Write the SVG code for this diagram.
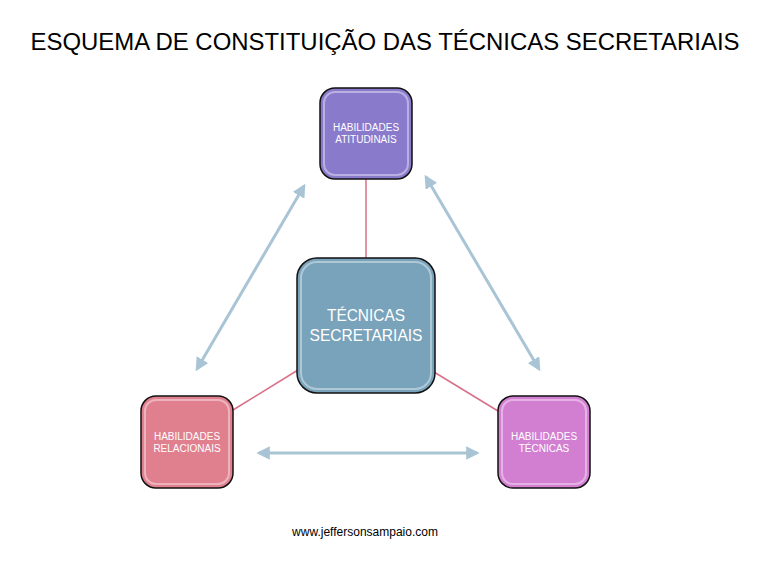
<svg xmlns="http://www.w3.org/2000/svg" width="771" height="565" viewBox="0 0 771 565">
<style>
.box{stroke:#111;stroke-width:1.5}
.gloss{fill:none;stroke:#fff;stroke-opacity:0.4;stroke-width:2}
.lbl{font-family:"Liberation Sans",Arial,sans-serif;fill:#fff;text-anchor:middle}
.sm{font-size:10px}
.lk{stroke:#d77088;stroke-width:1.5;fill:none}
.ar{stroke:#a9c5d5;stroke-width:3;fill:none;marker-start:url(#ah);marker-end:url(#ah)}
</style>
<defs>
<marker id="ah" viewBox="0 0 10 10" refX="8" refY="5" markerWidth="4.5" markerHeight="4.5" orient="auto-start-reverse" markerUnits="strokeWidth">
<path d="M0,0 L10,5 L0,10 z" fill="#a9c5d5"/>
</marker>
</defs>
<rect width="771" height="565" fill="#fff"/>
<text x="385" y="50" font-family="'Liberation Sans',Arial,sans-serif" font-size="24" text-anchor="middle" fill="#000" textLength="709" lengthAdjust="spacingAndGlyphs">ESQUEMA DE CONSTITUIÇÃO DAS TÉCNICAS SECRETARIAIS</text>
<g id="connectors">
<line class="lk" x1="366" y1="179" x2="366" y2="258"/>
<line class="lk" x1="298" y1="370" x2="233" y2="410"/>
<line class="lk" x1="434" y1="372" x2="498" y2="411"/>
<line class="ar" x1="304" y1="186" x2="197" y2="369"/>
<line class="ar" x1="426" y1="177" x2="539" y2="369"/>
<line class="ar" x1="259" y1="453" x2="477" y2="453"/>
</g>
<g id="node-atitudinais">
<rect class="box" x="320" y="88" width="92" height="91" rx="15" fill="#8a7acb"/>
<rect class="gloss" x="324" y="92" width="84" height="83" rx="11"/>
<text class="lbl sm" x="366" y="131">HABILIDADES</text>
<text class="lbl sm" x="366" y="143">ATITUDINAIS</text>
</g>
<g id="node-tecnicas-secretariais">
<rect class="box" x="297" y="258" width="138" height="135" rx="20" fill="#79a3bb"/>
<rect class="gloss" x="301" y="262" width="130" height="127" rx="16"/>
<text class="lbl" x="366" y="321" font-size="17" textLength="78" lengthAdjust="spacingAndGlyphs">TÉCNICAS</text>
<text class="lbl" x="366" y="341" font-size="17" textLength="113" lengthAdjust="spacingAndGlyphs">SECRETARIAIS</text>
</g>
<g id="node-relacionais">
<rect class="box" x="141" y="396" width="92" height="92" rx="15" fill="#e0808f"/>
<rect class="gloss" x="145" y="400" width="84" height="84" rx="11"/>
<text class="lbl sm" x="187" y="440">HABILIDADES</text>
<text class="lbl sm" x="187" y="452">RELACIONAIS</text>
</g>
<g id="node-tecnicas">
<rect class="box" x="498" y="396" width="92" height="92" rx="15" fill="#d27fd2"/>
<rect class="gloss" x="502" y="400" width="84" height="84" rx="11"/>
<text class="lbl sm" x="544" y="440">HABILIDADES</text>
<text class="lbl sm" x="544" y="452">TÉCNICAS</text>
</g>
<text x="365" y="536" font-family="'Liberation Sans',Arial,sans-serif" font-size="12" text-anchor="middle" fill="#000">www.jeffersonsampaio.com</text>
</svg>
